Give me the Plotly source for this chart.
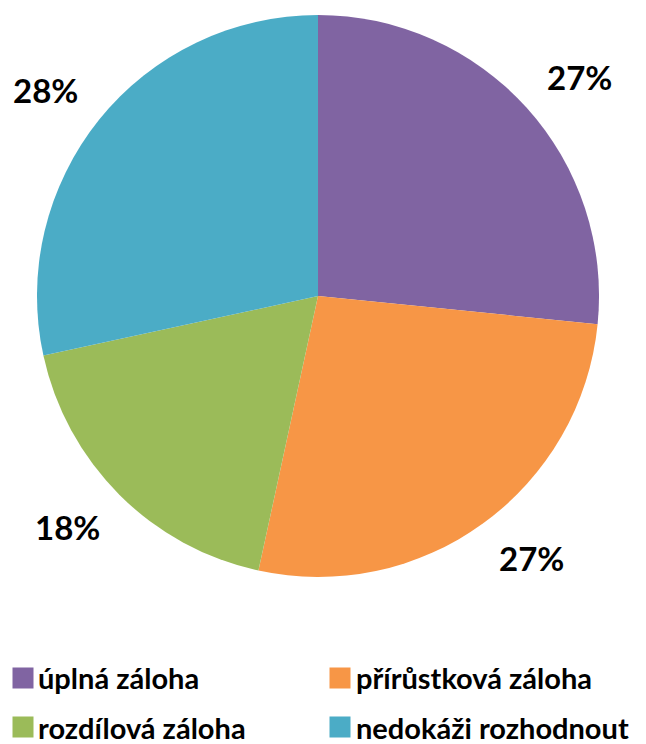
import math
import plotly.graph_objects as go

labels = ["úplná záloha", "přírůstková záloha", "rozdílová záloha", "nedokáži rozhodnout"]
values = [26.6, 26.8, 18.2, 28.4]
colors = ["#8064A2", "#F79646", "#9BBB59", "#4BACC6"]

W, H = 646, 744
dom_x = [0.0449, 0.9149]
dom_y = [0.2339, 0.9919]

fig = go.Figure(go.Pie(
    labels=labels, values=values, sort=False, direction="clockwise", rotation=0,
    marker=dict(colors=colors, line=dict(color="white", width=0)),
    textinfo="none", hoverinfo="label+percent", showlegend=False,
    domain=dict(x=dom_x, y=dom_y),
))

# percentage labels: nearest corner of each label box sits just outside the slice
cx = (dom_x[0] + dom_x[1]) / 2 * W
cy = (dom_y[0] + dom_y[1]) / 2 * H
R = min((dom_x[1] - dom_x[0]) * W, (dom_y[1] - dom_y[0]) * H) / 2
half_w, half_h = 32, 12
total = sum(values)
cum = 0
for v in values:
    mid = (cum + v / 2) / total * 2 * math.pi
    cum += v
    s, c = math.sin(mid), math.cos(mid)
    px = cx + 1.10 * R * s + math.copysign(half_w, s)
    py = cy + 1.10 * R * c + math.copysign(half_h, c)
    fig.add_annotation(x=px / W, y=py / H, xref="paper", yref="paper",
                       xanchor="center", yanchor="middle",
                       text=f"{round(v / total * 100)}%", showarrow=False,
                       font=dict(family="Lato", size=33, color="black", weight="bold"))

# legend: two columns, two rows, square colour keys
col_sq = [0.0232, 0.5132]
col_tx = [0.0449, 0.5372]
row_y = [0.0995, 0.0335]
for i, (lab, col) in enumerate(zip(labels, colors)):
    r, c = divmod(i, 2)
    fig.add_annotation(x=col_sq[c], y=row_y[r], xref="paper", yref="paper",
                       xanchor="center", yanchor="middle", showarrow=False,
                       text=" ", bgcolor=col, width=20, height=20, borderpad=0,
                       font=dict(size=4))
    fig.add_annotation(x=col_tx[c], y=row_y[r], xref="paper", yref="paper",
                       xanchor="left", yanchor="middle", showarrow=False,
                       text=lab, borderpad=0,
                       font=dict(family="Lato", size=29, color="black", weight="bold"))

fig.update_layout(
    width=W, height=H, margin=dict(l=0, r=0, t=0, b=0),
    paper_bgcolor="white", plot_bgcolor="white",
    font=dict(family="Lato", color="black"),
    showlegend=False,
)
fig.write_html("out.html")
